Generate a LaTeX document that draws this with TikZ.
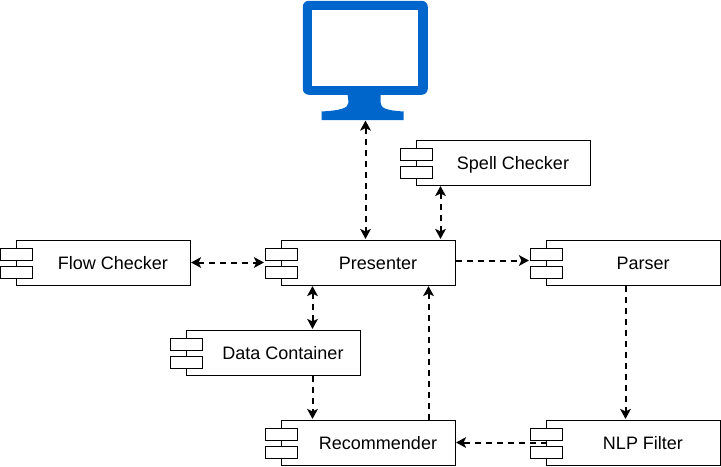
\documentclass[tikz,border=0pt]{standalone}
\usepackage{fontspec}
\setmainfont{Liberation Sans}
\usetikzlibrary{arrows.meta,calc}
\definecolor{monblue}{HTML}{0066CC}
\tikzset{
  x=0.75pt,y=-0.75pt,
  comp/.style={draw=black,fill=white,line width=0.75pt,minimum width=130.5pt,minimum height=33.75pt,inner sep=0pt,anchor=north west},
  tab/.style={draw=black,fill=white,line width=0.75pt,minimum width=24pt,minimum height=9pt,inner sep=0pt,anchor=north west},
  lab/.style={font=\fontsize{13.5pt}{16pt}\selectfont,inner sep=0pt,text=black,text height=9.6pt,text depth=0pt},
  tipp/.tip={Stealth[length=7.5pt,width=8pt,inset=1.8pt]},
  conn/.style={line width=1.5pt,dash pattern=on 4.5pt off 3.75pt,-tipp,shorten >=0.4pt},
  biconn/.style={line width=1.5pt,dash pattern=on 4.5pt off 3.75pt,tipp-tipp,shorten >=0.4pt,shorten <=0.4pt},
}
\newcommand{\component}[4]{%
  \node[comp] (#1) at (#2,#3) {};
  \node[tab] (#1t1) at (#2-16,#3+8) {};
  \node[tab] (#1t2) at (#2-16,#3+26) {};
  \node[lab] (#1l) at ($(#1.center)+(10,0.5)$) {#4};
}
\begin{document}
\begin{tikzpicture}
\useasboundingbox (0,0) rectangle (721,467);
% monitor
\fill[monblue] (347.5,93.5) -- (380.5,93.5) -- (380.5,102.5) .. controls (380.5,108.5) and (387.5,110.5) .. (403.5,111.5) -- (403.5,120) -- (321.5,120) -- (321.5,111.5) .. controls (339.5,110.5) and (348.5,108.5) .. (348.5,102.5) -- cycle;
\node[draw=none,fill=monblue,rounded corners=4.5pt,minimum width=93.75pt,minimum height=70.5pt,inner sep=0pt,anchor=north west] (mon) at (302.5,0.5) {};
\node[fill=white,minimum width=79.5pt,minimum height=56.6pt,inner sep=0pt,anchor=north west] (scr) at (312,10) {};
\coordinate (monb) at (365.5,120);
\component{spell}{415.5}{139.5}{Spell Checker}
\component{flow}{15.5}{239.5}{Flow Checker}
\component{pres}{280.5}{239.5}{Presenter}
\component{pars}{545.5}{239.5}{Parser}
\component{data}{185.5}{329.5}{Data Container}
\component{rec}{280.5}{419.5}{Recommender}
\component{nlp}{545.5}{419.5}{NLP Filter}
% connector end points on the box edges
\coordinate (spellb) at ($(spell.south west)+(25,0)$);
\coordinate (prest) at (spellb |- pres.north);
\coordinate (presb) at ($(pres.south west)+(32,0)$);
\coordinate (datat) at (presb |- data.north);
\coordinate (datab) at ($(data.south west)+(127,0)$);
\coordinate (rect) at (datab |- rec.north);
\coordinate (recu) at ($(rec.north west)+(148,0)$);
\coordinate (presu) at (recu |- pres.south);
\coordinate (parsb) at ($(pars.south west)+(80,0)$);
\coordinate (nlpt) at (parsb |- nlp.north);
\coordinate (prese) at ($(pres.east)+(0,-2)$);
\coordinate (parsw) at (prese -| parst1.west);
% connectors
\draw[biconn] (monb) -- (monb |- pres.north);
\draw[biconn] (spellb) -- (prest);
\draw[biconn] (flow.east) -- (flow.east -| prest1.west);
\draw[conn] (prese) -- (parsw);
\draw[biconn] (presb) -- (datat);
\draw[conn] (datab) -- (rect);
\draw[conn] (recu) -- (presu);
\draw[conn] (parsb) -- (nlpt);
\draw[conn] ($(nlp.west)+(1,0)$) -- (rec.east);
\end{tikzpicture}
\end{document}
